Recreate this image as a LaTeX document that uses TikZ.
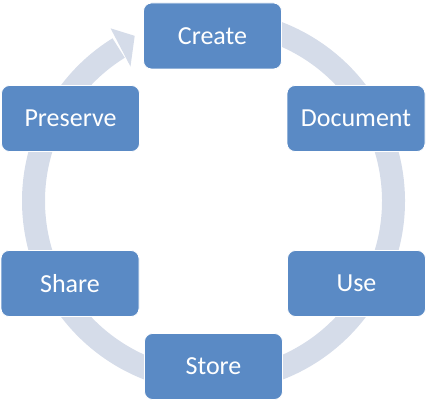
\documentclass[tikz,border=0pt]{standalone}
\usepackage{fontspec}
\setmainfont{Carlito}
\definecolor{boxblue}{HTML}{5A8AC5}
\definecolor{ringcol}{HTML}{D5DCE9}
\begin{document}
\begin{tikzpicture}[x=1pt,y=1pt,
  cbox/.style={rectangle, rounded corners=8pt, fill=boxblue, draw=white, line width=0.8pt,
    minimum width=138pt, minimum height=66pt, inner sep=0pt, text=white,
    font=\fontsize{26}{30}\selectfont}]
\useasboundingbox (0,0) rectangle (428,403);
\coordinate (c) at (213.5,202);
\begin{scope}[shift={(c)}]
  \draw[ringcol, line width=23pt] (95:180) arc[start angle=95, end angle=-238.2, radius=180];
  \fill[ringcol] (120.8:201) -- (115.5:183) -- (121.7:158) -- cycle;
\end{scope}
\node[cbox] (create) at (212.5,367) {Create};
\node[cbox] (document) at (356,284.5) {Document};
\node[cbox] (use) at (356.5,119.5) {Use};
\node[cbox] (store) at (213.5,36.5) {Store};
\node[cbox] (share) at (70,119.5) {Share};
\node[cbox] (preserve) at (70.5,284.5) {Preserve};
\end{tikzpicture}
\end{document}
